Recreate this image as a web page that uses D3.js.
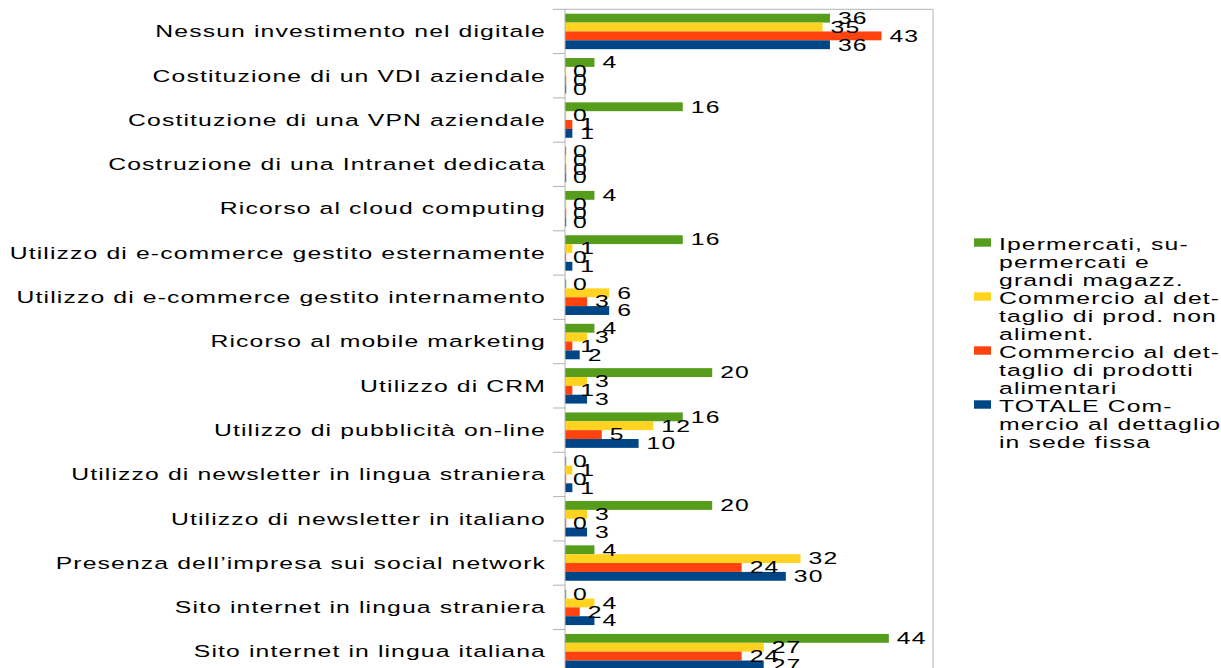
<!DOCTYPE html>
<html>
<head>
<meta charset="utf-8">
<script src="https://cdn.jsdelivr.net/npm/d3@7"></script>
<style>
  html, body { margin: 0; padding: 0; background: #fff; }
  svg { display: block; }
  text { font-family: "Liberation Sans", Arial, sans-serif; fill: #000; }
</style>
</head>
<body>
<svg id="chart" width="1221" height="668"></svg>
<script>
const categories = [
  "Nessun investimento nel digitale",
  "Costituzione di un VDI aziendale",
  "Costituzione di una VPN aziendale",
  "Costruzione di una Intranet dedicata",
  "Ricorso al cloud computing",
  "Utilizzo di e-commerce gestito esternamente",
  "Utilizzo di e-commerce gestito internamento",
  "Ricorso al mobile marketing",
  "Utilizzo di CRM",
  "Utilizzo di pubblicità on-line",
  "Utilizzo di newsletter in lingua straniera",
  "Utilizzo di newsletter in italiano",
  "Presenza dell’impresa sui social network",
  "Sito internet in lingua straniera",
  "Sito internet in lingua italiana"
];
const seriesNames = [
  "Ipermercati, supermercati e grandi magazz.",
  "Commercio al dettaglio di prod. non aliment.",
  "Commercio al dettaglio di prodotti alimentari",
  "TOTALE Commercio al dettaglio in sede fissa"
];
const legendLines = [
  ["Ipermercati, su-", "permercati e", "grandi magazz."],
  ["Commercio al det-", "taglio di prod. non", "aliment."],
  ["Commercio al det-", "taglio di prodotti", "alimentari"],
  ["TOTALE Com-", "mercio al dettaglio", "in sede fissa"]
];
const ipermercati  = [36, 4, 16, 0, 4, 16, 0, 4, 20, 16, 0, 20, 4, 0, 44];
const nonAlimentari = [35, 0, 0, 0, 0, 1, 6, 3, 3, 12, 1, 3, 32, 4, 27];
const alimentari   = [43, 0, 1, 0, 0, 0, 3, 1, 1, 5, 0, 0, 24, 2, 24];
const totale       = [36, 0, 1, 0, 0, 1, 6, 2, 3, 10, 1, 3, 30, 4, 27];
const seriesValues = [ipermercati, nonAlimentari, alimentari, totale];
const colors = ["#579D1C", "#FFD320", "#FF420E", "#004586"];

const svg = d3.select("#chart");
const SX = 1.5;       // horizontal stretch of glyphs
const FS = 16.5;
const LS = 0.75;

const plotLeft = 565, plotRight = 933, plotTop = 9.3, band = 44.3;
const x = d3.scaleLinear().domain([0, 50]).range([plotLeft, plotRight]);
const y = d3.scaleBand().domain(categories)
  .range([plotTop, plotTop + band * categories.length]).padding(0);
const ys = d3.scaleBand().domain(d3.range(4))
  .range([y.bandwidth() * 0.1, y.bandwidth() * 0.9]).padding(0);

function stretchedText(parent, tx, ty, str, anchor) {
  const g = parent.append("g").attr("transform", `translate(${tx},${ty}) scale(${SX},1)`);
  g.append("text")
    .attr("text-anchor", anchor)
    .attr("dy", "0.35em")
    .style("font-size", FS + "px")
    .style("letter-spacing", LS + "px")
    .text(str);
  return g;
}

// plot frame (top and right)
svg.append("line").attr("x1", plotLeft).attr("x2", plotRight)
  .attr("y1", plotTop).attr("y2", plotTop).attr("stroke", "#b3b3b3").attr("stroke-width", 1);
svg.append("line").attr("x1", plotRight).attr("x2", plotRight)
  .attr("y1", plotTop).attr("y2", 668).attr("stroke", "#b3b3b3").attr("stroke-width", 1);

// category axis ticks at band boundaries
const boundaries = categories.map(c => y(c)).concat([y.range()[1]]);
svg.append("g").selectAll("line").data(boundaries).join("line")
  .attr("x1", plotLeft - 12).attr("x2", plotLeft)
  .attr("y1", d => d).attr("y2", d => d)
  .attr("stroke", "#b3b3b3").attr("stroke-width", 1);

// bars
const bars = svg.append("g");
categories.forEach((cat, ci) => {
  seriesValues.forEach((vals, si) => {
    const v = vals[ci];
    const by = y(cat) + ys(si);
    bars.append("rect")
      .attr("x", x(0))
      .attr("y", by)
      .attr("width", Math.max(1.2, x(v) - x(0)))
      .attr("height", ys.bandwidth())
      .attr("fill", colors[si]);
  });
});

svg.append("line").attr("x1", plotLeft).attr("x2", plotLeft)
  .attr("y1", plotTop).attr("y2", 668).attr("stroke", "#b3b3b3").attr("stroke-width", 1);

// value labels
const labels = svg.append("g");
categories.forEach((cat, ci) => {
  seriesValues.forEach((vals, si) => {
    const v = vals[ci];
    const cy = y(cat) + ys(si) + ys.bandwidth() / 2;
    stretchedText(labels, x(v) + 8, cy, d3.format("d")(v), "start");
  });
});

// category labels
const catLabels = svg.append("g");
categories.forEach(cat => {
  stretchedText(catLabels, 546, y(cat) + y.bandwidth() / 2, cat, "end");
});

// legend
const legend = svg.append("g");
const legTop = 242.5, legStep = 54, lineStep = 18;
seriesNames.forEach((name, i) => {
  const cy = legTop + i * legStep;
  legend.append("rect")
    .attr("x", 974).attr("y", cy - 4.2)
    .attr("width", 17).attr("height", 8.4)
    .attr("fill", colors[i]);
  legendLines[i].forEach((ln, j) => {
    stretchedText(legend, 999, cy + 2 + j * lineStep, ln, "start");
  });
});
</script>
</body>
</html>
